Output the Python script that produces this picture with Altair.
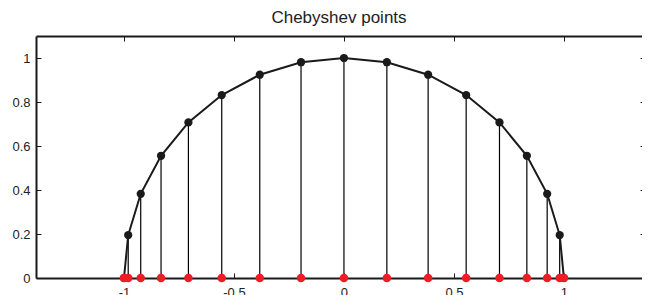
import altair as alt
import pandas as pd

# Chebyshev points
xs = [-1.0, -0.9808, -0.9239, -0.8315, -0.7071, -0.5556, -0.3827, -0.1951, 0.0,
      0.1951, 0.3827, 0.5556, 0.7071, 0.8315, 0.9239, 0.9808, 1.0]
ys = [0.0, 0.1951, 0.3827, 0.5556, 0.7071, 0.8315, 0.9239, 0.9808, 1.0,
      0.9808, 0.9239, 0.8315, 0.7071, 0.5556, 0.3827, 0.1951, 0.0]
x_ticks = [-1, -0.5, 0, 0.5, 1]
y_ticks = [0, 0.2, 0.4, 0.6, 0.8, 1]

df = pd.DataFrame({"x": xs, "y": ys, "i": list(range(len(xs)))})
df["y0"] = 0.0

FONT = "Liberation Sans"
W, H = 606, 242
xscale = alt.Scale(domain=[-1.4, 1.355], nice=False, zero=False)
yscale = alt.Scale(domain=[0, 1.1], nice=False, zero=False)

lab = dict(labelFont=FONT, labelFontSize=13, labelColor="#222222",
           labelExpr="datum.value + ''")

# axis variants
x_labels = alt.Axis(orient="bottom", values=x_ticks, ticks=False, domain=True,
                    domainColor="#1a1a1a", domainWidth=2, labelPadding=8,
                    grid=False, title=None, **lab)
y_labels = alt.Axis(orient="left", values=y_ticks, ticks=False, domain=True,
                    domainColor="#1a1a1a", domainWidth=2, labelPadding=6,
                    grid=False, title=None, **lab)
x_bot_ticks = alt.Axis(orient="bottom", values=x_ticks, ticks=True, tickSize=5,
                       tickColor="#1a1a1a", offset=-5, labels=False,
                       domain=False, grid=False, title=None)
y_left_ticks = alt.Axis(orient="left", values=y_ticks, ticks=True, tickSize=5,
                        tickColor="#1a1a1a", offset=-5, labels=False,
                        domain=False, grid=False, title=None)
x_top_ticks = alt.Axis(orient="top", values=x_ticks, ticks=True, tickSize=5,
                       tickColor="#1a1a1a", offset=-5, labels=False,
                       domain=False, grid=False, title=None)
y_right_ticks = alt.Axis(orient="right", values=y_ticks, ticks=True, tickSize=2,
                         tickColor="#1a1a1a", offset=-2, labels=False,
                         domain=False, grid=False, title=None)
x_top_domain = alt.Axis(orient="top", values=x_ticks, ticks=False, labels=False,
                        domain=True, domainColor="#1a1a1a", domainWidth=2,
                        grid=False, title=None)

base = alt.Chart(df)

stems = base.mark_rule(color="#000000", strokeWidth=1.2).encode(
    x=alt.X("x:Q", scale=xscale, axis=x_labels),
    y=alt.Y("y:Q", scale=yscale, axis=y_labels),
    y2="y0:Q",
)

curve = base.mark_line(color="#1a1a1a", strokeWidth=2).encode(
    x=alt.X("x:Q", scale=xscale, axis=x_bot_ticks),
    y=alt.Y("y:Q", scale=yscale, axis=y_left_ticks),
    order="i:Q",
)

dots = base.mark_circle(color="#1a1a1a", size=68, opacity=1).encode(
    x=alt.X("x:Q", scale=xscale, axis=x_top_ticks),
    y=alt.Y("y:Q", scale=yscale, axis=y_right_ticks),
)

red = base.mark_circle(color="#ee1c25", size=74, opacity=1).encode(
    x=alt.X("x:Q", scale=xscale, axis=x_top_domain),
    y=alt.Y("y0:Q", scale=yscale, axis=None),
)

chart = alt.layer(stems, curve, dots, red).resolve_axis(
    x="independent", y="independent"
).properties(
    width=W, height=H,
    title=alt.TitleParams("Chebyshev points", font=FONT, fontSize=17,
                          fontWeight="normal", color="#222222",
                          anchor="middle", offset=9),
    autosize=alt.AutoSizeParams(type="none"),
    padding={"left": 28, "top": 28, "right": 0, "bottom": 17},
).configure_view(stroke=None)

chart.save("out.html", embed_options={"renderer": "svg", "actions": False})
